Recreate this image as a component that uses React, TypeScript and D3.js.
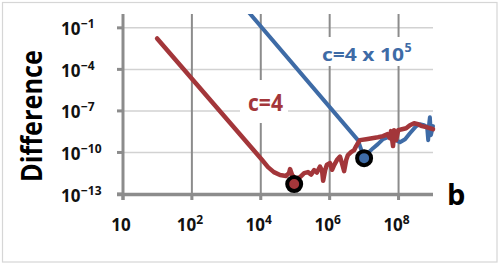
import React from "react";
import * as d3 from "d3";

// ---- data (log10 values) ----
const redLogB = [0.99, 4.04, 4.21, 4.38, 4.56, 4.73, 4.82, 4.85, 4.91, 5.02, 5.14, 5.26, 5.37, 5.46, 5.55, 5.63, 5.72, 5.78, 5.81, 5.87, 5.92, 6.01, 6.07, 6.13, 6.21, 6.3, 6.36, 6.42, 6.48, 6.53, 6.62, 6.71, 6.77, 6.82, 6.88, 7.06, 7.23, 7.4, 7.55, 7.67, 7.75, 7.78, 7.84, 7.87, 7.93, 7.99, 8.1, 8.22, 8.33, 8.45, 8.57, 8.68, 8.83, 9.0];
const redLogDiff = [-1.77, -10.55, -11.06, -11.42, -11.63, -11.7, -11.49, -11.2, -11.63, -11.92, -11.78, -11.49, -11.42, -11.6, -11.27, -11.45, -11.02, -11.34, -12.05, -11.27, -10.88, -10.77, -11.25, -10.91, -10.55, -10.3, -10.8, -11.35, -10.55, -10.19, -9.98, -9.83, -9.54, -9.33, -9.11, -9.04, -8.97, -8.9, -8.82, -8.68, -8.97, -8.46, -9.54, -8.39, -9.11, -8.39, -8.32, -8.25, -8.03, -7.89, -7.96, -8.1, -8.18, -8.32];

const blueLogB = [3.66, 6.82, 7.0, 7.11, 7.26, 7.4, 7.55, 7.7, 7.81, 7.93, 8.04, 8.19, 8.33, 8.51, 8.62, 8.74, 8.83, 8.86, 8.89, 8.91, 8.94, 9.0];
const blueLogDiff = [0.1, -9.11, -10.41, -10.05, -9.69, -9.4, -9.04, -8.9, -8.82, -9.11, -9.26, -9.04, -8.61, -8.1, -7.96, -8.03, -8.18, -9.11, -7.89, -7.46, -8.75, -8.1];

const markerLogB = [4.97, 7.0];
const markerLogDiff = [-12.28, -10.41];
const markerColors = ["#a3363a", "#3e6ba6"];

const xTickVals = [1, 1e2, 1e4, 1e6, 1e8];
const xTickExp = ["", "2", "4", "6", "8"];
const xGridVals = [1e2, 1e4, 1e6, 1e8];
const yTickVals = [1e-1, 1e-4, 1e-7, 1e-10, 1e-13];
const yTickExp = ["\u22121", "\u22124", "\u22127", "\u221210", "\u221213"];

const RED = "#a3363a";
const BLUE = "#3e6ba6";
const FONT = "'Open Sans', 'DejaVu Sans', sans-serif";

export default function App() {
  const x = d3.scaleLog().domain([1, 1e9]).range([123, 433]);
  const y = d3.scaleLog().domain([1e-13, 1]).range([194, 14]);

  const line = d3
    .line<[number, number]>()
    .x((d) => x(Math.pow(10, d[0])))
    .y((d) => y(Math.pow(10, d[1])));

  const redPts = redLogB.map((b, i) => [b, redLogDiff[i]] as [number, number]);
  const bluePts = blueLogB.map((b, i) => [b, blueLogDiff[i]] as [number, number]);

  return (
    <svg
      width={500}
      height={266}
      style={{ position: "absolute", left: 0, top: 0, background: "#fff" }}
      fontFamily={FONT}
    >
      <defs>
        <clipPath id="plotClip">
          <rect x={110} y={14} width={330} height={240} />
        </clipPath>
      </defs>
      <rect x={0} y={0} width={500} height={266} fill="#fff" />
      <rect x={2.5} y={2.5} width={494.5} height={259.5} fill="#fff" stroke="#d6d6d6" strokeWidth={1.2} />

      {/* horizontal gridlines */}
      {yTickVals.slice(0, 4).map((v, i) => (
        <line key={"hg" + i} x1={123} x2={433} y1={y(v)} y2={y(v)} stroke="#d2d2d2" strokeWidth={1.5} />
      ))}
      {/* vertical gridlines */}
      {xGridVals.map((v, i) => (
        <line key={"vg" + i} x1={x(v)} x2={x(v)} y1={14} y2={200} stroke="#8c8c8c" strokeWidth={2} />
      ))}

      {/* label backgrounds */}
      <rect x={240} y={80} width={48} height={43} fill="#fff" />
      <rect x={313} y={37} width={112} height={29} fill="#fff" />

      {/* axes */}
      <line x1={123} x2={123} y1={14} y2={200} stroke="#8c8c8c" strokeWidth={3} />
      <line x1={117} x2={433} y1={194.5} y2={194.5} stroke="#8c8c8c" strokeWidth={3.5} />
      {yTickVals.map((v, i) => (
        <line key={"yt" + i} x1={117} x2={123} y1={y(v)} y2={y(v)} stroke="#8c8c8c" strokeWidth={3} />
      ))}
      {xTickVals.map((v, i) => (
        <line key={"xt" + i} x1={x(v)} x2={x(v)} y1={194} y2={200} stroke="#8c8c8c" strokeWidth={3} />
      ))}

      {/* y tick labels */}
      {yTickVals.map((v, i) => (
        <text key={"yl" + i} x={61} y={y(v) + 7.5} fontSize={17} fontWeight={700} fill="#111">
          10
          <tspan fontSize={12} dy={-7} dx={0.5}>
            {yTickExp[i]}
          </tspan>
        </text>
      ))}

      {/* x tick labels */}
      {xTickVals.map((v, i) => (
        <text key={"xl" + i} x={x(v) - 2} y={231} fontSize={17} fontWeight={700} fill="#111" textAnchor="middle">
          10
          {xTickExp[i] && (
            <tspan fontSize={12} dy={-7}>
              {xTickExp[i]}
            </tspan>
          )}
        </text>
      ))}

      {/* series */}
      <g clipPath="url(#plotClip)">
        <path d={line(bluePts) || ""} fill="none" stroke={BLUE} strokeWidth={4} strokeLinejoin="round" strokeLinecap="round" />
        <path d={line(redPts) || ""} fill="none" stroke={RED} strokeWidth={4.5} strokeLinejoin="round" strokeLinecap="round" />
      </g>
      {markerLogB.map((b, i) => (
        <circle
          key={"m" + i}
          cx={x(Math.pow(10, b))}
          cy={y(Math.pow(10, markerLogDiff[i]))}
          r={7}
          fill={markerColors[i]}
          stroke="#000"
          strokeWidth={4}
        />
      ))}

      {/* series labels */}
      <text x={248} y={110.5} fontSize={23} fontWeight={700} fill={RED} textLength={35} lengthAdjust="spacingAndGlyphs">
        c=4
      </text>
      <text x={322} y={61} fontSize={18.5} fontWeight={700} fill={BLUE} textLength={82} lengthAdjust="spacingAndGlyphs">
        c=4 x 10
      </text>
      <text x={404.5} y={52} fontSize={12.5} fontWeight={700} fill={BLUE}>
        5
      </text>

      {/* axis titles */}
      <text
        transform="translate(42,116) rotate(-90)"
        fontSize={28}
        fontWeight={700}
        fill="#000"
        textAnchor="middle"
        textLength={132}
        lengthAdjust="spacingAndGlyphs"
      >
        Difference
      </text>
      <text x={447} y={205} fontSize={29} fontWeight={700} fill="#000">
        b
      </text>
    </svg>
  );
}
